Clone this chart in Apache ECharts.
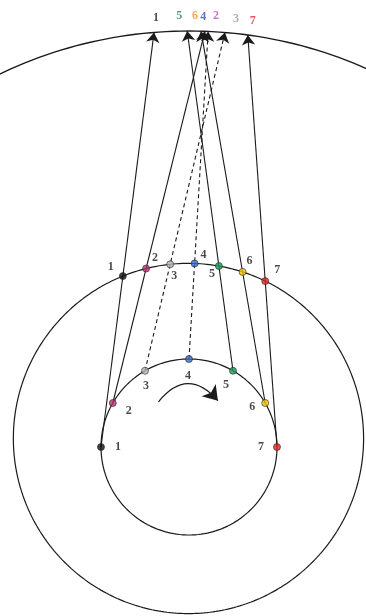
<!DOCTYPE html>
<html style="height:100%;width:100%">
<head>
<meta charset="utf-8">
<style>html,body{margin:0;padding:0;background:#fff}</style>
</head>
<body style="height:100%;width:100%">
<div id="chart-panel" style="width:366px;height:616px"></div>
<script src="https://cdn.jsdelivr.net/npm/echarts@6/dist/echarts.min.js"></script>
<script>
// positions numbered 1..7
var names = ['1', '2', '3', '4', '5', '6', '7'];
// angle (deg) of each position on the inner orbit (radius 1)
var innerAngles = [180, 150, 120, 90, 60, 30, 0];
// angle (deg) of each position on the outer orbit
var outerAngles = [112, 104, 96, 88, 80, 72, 64];

// geometry (units = inner orbit radius)
var outerC = [-0.006, 0.097], outerR = 1.99;
var skyC = [0, -0.25], skyR = 4.977;
var spin = {r: 0.62, from: 124, to: 58};

// styles
var dotColors = ['#111111', '#b8326e', '#b4b4b4', '#3a6cc8', '#1f9a57', '#f3c600', '#e8231c'];
var topColors = ['#222222', '#c257b4', '#9c9c9c', '#3553a8', '#2f8c5a', '#f29420', '#e02a30'];
var dashed = [false, false, true, true, false, false, false];
var innerOff = [[17, 0], [16, 8], [1, 15], [-1, 17], [-7, 14], [-13, 4], [-16, 0]];
var outerOff = [[-12, -9], [9, -11], [4, 12], [9, -9], [-7, 8], [7, -11], [12, -11]];
var topOff = [[2, -15], [11, -15], [11, -14], [-5, -15], [-8, -15], [-6, -15], [5, -14]];
var font = 'Liberation Serif';

function rad(d) { return d * Math.PI / 180; }
function onCircle(c, r, a) { return [c[0] + r * Math.cos(rad(a)), c[1] + r * Math.sin(rad(a))]; }
function circle(c, r, a0, a1) {
  var pts = [];
  for (var a = a0; a <= a1; a += 1) pts.push(onCircle(c, r, a));
  return pts;
}

var inner = innerAngles.map(function (a) { return onCircle([0, 0], 1, a); });
var outer = outerAngles.map(function (a) { return onCircle(outerC, outerR, a); });

// where the sight line inner->outer meets the sky
var tips = inner.map(function (p, i) {
  var q = outer[i];
  var dx = q[0] - p[0], dy = q[1] - p[1];
  var len = Math.sqrt(dx * dx + dy * dy);
  dx /= len; dy /= len;
  var fx = p[0] - skyC[0], fy = p[1] - skyC[1];
  var b = fx * dx + fy * dy;
  var c = fx * fx + fy * fy - skyR * skyR;
  var t = -b + Math.sqrt(b * b - c);
  return [p[0] + t * dx, p[1] + t * dy];
});

var lineStyle = {color: '#1a1a1a', width: 1.2, opacity: 1};

function labelled(points, offs, colors) {
  return points.map(function (p, i) {
    return {
      name: names[i],
      value: p,
      label: {offset: offs[i], color: colors ? colors[i] : '#1a1a1a'}
    };
  });
}

var myChart = echarts.init(document.getElementById('chart-panel'));
var option = {
  backgroundColor: '#fff',
  animation: false,
  grid: {left: 0, right: 0, top: 0, bottom: 0},
  xAxis: {type: 'value', min: -2.1477, max: 2.0114, show: false},
  yAxis: {type: 'value', min: -1.9205, max: 5.0795, show: false},
  series: [
    {type: 'line', data: circle([0, 0], 1, 0, 360), showSymbol: false, lineStyle: lineStyle, silent: true},
    {type: 'line', data: circle(outerC, outerR, 0, 360), showSymbol: false, lineStyle: lineStyle, silent: true},
    {type: 'line', data: circle(skyC, skyR, 50, 130), showSymbol: false, lineStyle: {color: '#1a1a1a', width: 1.4}, silent: true},
    {
      type: 'lines',
      coordinateSystem: 'cartesian2d',
      symbol: ['none', 'arrow'],
      symbolSize: [7, 10],
      lineStyle: {color: '#1a1a1a', width: 1.1, opacity: 1},
      data: inner.map(function (p, i) {
        return {
          coords: [p, tips[i]],
          lineStyle: {type: dashed[i] ? [4, 3] : 'solid'}
        };
      }),
      z: 3
    },
    {
      type: 'lines',
      coordinateSystem: 'cartesian2d',
      symbol: ['none', 'arrow'],
      symbolSize: [11, 14],
      lineStyle: {color: '#1a1a1a', width: 1.2, curveness: 0.59, opacity: 1},
      data: [{coords: [onCircle([0, 0], spin.r, spin.from), onCircle([0, 0], spin.r, spin.to)]}],
      z: 3
    },
    {
      type: 'scatter',
      symbolSize: 7,
      z: 5,
      data: inner.concat(outer).map(function (p, i) {
        return {value: p, itemStyle: {color: dotColors[i % 7], borderColor: '#2a2a2a', borderWidth: 0.8}};
      })
    },
    {
      type: 'scatter',
      symbolSize: 1,
      itemStyle: {color: 'rgba(0,0,0,0)'},
      label: {show: true, position: 'inside', formatter: '{b}', fontFamily: font, fontWeight: 'bold', fontSize: 12},
      data: labelled(inner, innerOff).concat(labelled(outer, outerOff)),
      z: 6
    },
    {
      type: 'scatter',
      symbolSize: 1,
      itemStyle: {color: 'rgba(0,0,0,0)'},
      label: {show: true, position: 'inside', formatter: '{b}', fontFamily: font, fontWeight: 'bold', fontSize: 12},
      data: labelled(tips, topOff, topColors),
      z: 6
    }
  ]
};
myChart.setOption(option);
</script>
</body>
</html>
